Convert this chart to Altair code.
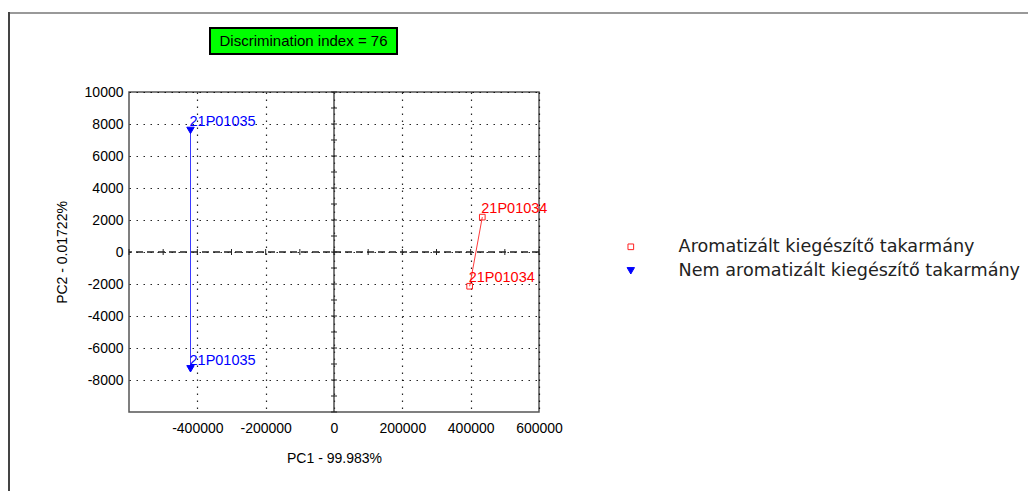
import altair as alt
import pandas as pd

# ---- data ----
groups = ["Aromatizált kiegészítő takarmány", "Aromatizált kiegészítő takarmány",
          "Nem aromatizált kiegészítő takarmány", "Nem aromatizált kiegészítő takarmány"]
sample_ids = ["21P01034", "21P01034", "21P01035", "21P01035"]
pc1 = [434000, 397000, -420000, -420000]
pc2 = [2180, -2140, 7600, -7300]
order = [0, 1, 0, 1]

x_ticks = [-400000, -200000, 0, 200000, 400000, 600000]
y_ticks = [-8000, -6000, -4000, -2000, 0, 2000, 4000, 6000, 8000, 10000]
x_minor = list(range(-600000, 600001, 100000))
y_minor = list(range(-10000, 10001, 1000))
title_text = ["Discrimination index = 76"]

GROUP_A = "Aromatizált kiegészítő takarmány"
GROUP_B = "Nem aromatizált kiegészítő takarmány"

df = pd.DataFrame({"group": groups, "id": sample_ids, "pc1": pc1, "pc2": pc2, "order": order})

W, H = 410, 320
xscale = alt.Scale(domain=[-600000, 600000], nice=False, zero=False)
yscale = alt.Scale(domain=[-10000, 10000], nice=False, zero=False)

xaxis = alt.Axis(values=x_ticks, labelExpr="'' + datum.value", title="PC1 - 99.983%",
                 labelPadding=9, titleY=46, titleBaseline="middle",
                 labelOverlap=False, labelFlush=False, labelBound=False)
yaxis = alt.Axis(values=y_ticks, labelExpr="'' + datum.value", title="PC2 - 0.01722%",
                 labelPadding=6, titleX=-67, titleY=H / 2, titleBaseline="middle",
                 titleAlign="center", titleAngle=-90,
                 labelOverlap=False, labelFlush=False, labelBound=False)


def X(field):
    return alt.X(field, scale=xscale, axis=xaxis)


def Y(field):
    return alt.Y(field, scale=yscale, axis=yaxis)


base = alt.Chart(df)

lines = base.mark_line(strokeWidth=1).encode(
    x=X("pc1:Q"),
    y=Y("pc2:Q"),
    detail="group:N",
    order="order:Q",
    stroke=alt.condition(alt.datum.group == GROUP_A, alt.value("#ff3b3b"), alt.value("#3b3bff")),
)

legend = alt.Legend(title=None, orient="none", legendX=493, legendY=146,
                    labelFont="DejaVu Sans", labelFontSize=17.6, labelColor="#222222",
                    labelLimit=600, labelOffset=39, rowPadding=5, symbolSize=40, padding=0,
                    symbolStrokeWidth=1)

points = base.mark_point(strokeWidth=1, opacity=1).encode(
    x=X("pc1:Q"),
    y=Y("pc2:Q"),
    color=alt.Color("group:N", scale=alt.Scale(domain=[GROUP_A, GROUP_B], range=["#ff2020", "#0000ff"]),
                    legend=legend),
    shape=alt.Shape("group:N", scale=alt.Scale(domain=[GROUP_A, GROUP_B], range=["square", "triangle-down"]),
                    legend=legend),
    fill=alt.Fill("group:N", scale=alt.Scale(domain=[GROUP_A, GROUP_B], range=["transparent", "#0000ff"]),
                  legend=legend),
    size=alt.Size("group:N", scale=alt.Scale(domain=[GROUP_A, GROUP_B], range=[32, 55]), legend=None),
)

labels = base.mark_text(align="left", baseline="middle", dx=-1, dy=-8, font="Liberation Sans",
                        fontSize=14.5).encode(
    x=X("pc1:Q"),
    y=Y("pc2:Q"),
    text="id:N",
    color=alt.condition(alt.datum.group == GROUP_A, alt.value("#ff0000"), alt.value("#0000ff")),
)

zdf = pd.DataFrame({"pc1": [0], "pc2": [0]})
hzero = alt.Chart(zdf).mark_rule(color="#222222", strokeWidth=1.3,
                                 strokeDash=[7, 4]).encode(y=Y("pc2:Q"))
vzero = alt.Chart(zdf).mark_rule(color="#333333", strokeWidth=1.3).encode(x=X("pc1:Q"))

xminor_ticks = alt.Chart(pd.DataFrame({"pc1": x_minor, "pc2": 0})).mark_tick(
    orient="vertical", size=6, thickness=1, color="#222222", opacity=1).encode(x=X("pc1:Q"), y=Y("pc2:Q"))
yminor_ticks = alt.Chart(pd.DataFrame({"pc2": y_minor, "pc1": 0})).mark_tick(
    orient="horizontal", size=6, thickness=1, color="#222222", opacity=1).encode(y=Y("pc2:Q"), x=X("pc1:Q"))

tdf = pd.DataFrame({"t": title_text})
title_box = alt.Chart(tdf).mark_rect(fill="#00ff00", stroke="#000000", strokeWidth=2).encode(
    x=alt.value(81), x2=alt.value(268), y=alt.value(-64), y2=alt.value(-38))
title_txt = alt.Chart(tdf).mark_text(font="Liberation Sans", fontSize=15, color="#000000",
                                     align="center", baseline="middle").encode(
    x=alt.value(174.5), y=alt.value(-51), text="t:N")

frame_top = alt.Chart(tdf).mark_rule(color="#999999", strokeWidth=2).encode(
    x=alt.value(-120), x2=alt.value(900), y=alt.value(-79))
frame_left = alt.Chart(tdf).mark_rule(color="#444444", strokeWidth=2).encode(
    x=alt.value(-120), y=alt.value(-80), y2=alt.value(400))

chart = alt.layer(
    hzero, vzero, xminor_ticks, yminor_ticks, lines, points, labels,
    title_box, title_txt, frame_top, frame_left,
).properties(
    width=W, height=H,
    padding={"left": 121, "top": 84, "right": 489, "bottom": 79},
    autosize=alt.AutoSizeParams(type="none"),
).configure_view(
    stroke="#555555", strokeWidth=1.5
).configure_axis(
    labelFont="Liberation Sans", labelFontSize=14, labelColor="#000000",
    titleFont="Liberation Sans", titleFontSize=14, titleFontWeight="normal", titleColor="#000000",
    domain=False, ticks=False, grid=True, gridColor="#000000", gridDash=[1.5, 5.5],
    gridWidth=1.2, gridOpacity=0.85, labelOverlap=False, labelFlush=False, labelBound=False,
)

chart.save("out.html", embed_options={"renderer": "svg", "actions": False})
